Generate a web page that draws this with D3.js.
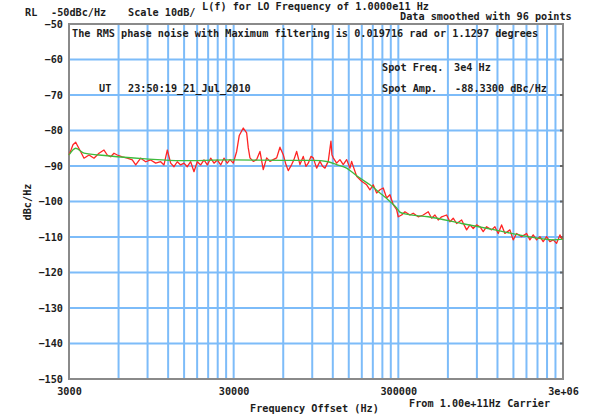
<!DOCTYPE html>
<html>
<head>
<meta charset="utf-8">
<script src="https://cdn.jsdelivr.net/npm/d3@7"></script>
<style>
  html, body { margin: 0; padding: 0; background: #fff; }
  svg text { font-family: "DejaVu Sans Mono", "Liberation Mono", monospace; font-size: 10.2px; font-weight: bold; fill: #1c1c1c; }
</style>
</head>
<body>
<svg id="chart" width="594" height="416"></svg>
<script>
// Level axis (dBc/Hz)
const yTicks = [-50, -60, -70, -80, -90, -100, -110, -120, -130, -140, -150];
// Offset-frequency axis labels
const xTickValues = [3000, 30000, 300000, 3000000];
const xTickLabels = ["3000", "30000", "300000", "3e+06"];
// Vertical grid: 2..10 times the start of each decade
const gridFreqs = [6000, 9000, 12000, 15000, 18000, 21000, 24000, 27000, 30000,
                   60000, 90000, 120000, 150000, 180000, 210000, 240000, 270000, 300000,
                   600000, 900000, 1200000, 1500000, 1800000, 2100000, 2400000, 2700000];

// Measured phase noise [offset Hz, dBc/Hz]
const measured = [
  [3000,-86.9],[3085,-85.5],[3172,-84.0],[3295,-83.3],[3355,-84.0],[3533,-86.0],[3700,-87.8],
  [3968,-86.9],[4255,-87.8],[4563,-86.4],[4893,-85.5],[5124,-86.9],[5374,-87.4],[5627,-86.4],
  [5893,-86.9],[6321,-87.4],[6779,-87.8],[7269,-88.3],[7623,-89.7],[8175,-87.8],[8767,-88.8],
  [9401,-88.3],[10082,-89.2],[10812,-88.8],[11322,-89.7],[11858,-85.5],[12434,-89.2],[13021,-90.2],
  [13636,-88.8],[14299,-89.7],[14974,-89.2],[15680,-90.2],[16445,-88.8],[17222,-91.6],[18034,-88.8],
  [18922,-89.7],[19815,-88.3],[20750,-89.7],[21758,-87.8],[22785,-89.2],[23859,-88.3],[25018,-89.7],
  [26198,-87.8],[27434,-89.2],[28489,-88.2],[29833,-89.2],[31286,-85.9],[32443,-81.4],[34312,-79.3],
  [35981,-80.7],[36796,-84.9],[37679,-87.7],[39459,-88.7],[41379,-88.2],[43332,-85.9],[45378,-91.0],
  [47587,-87.7],[49833,-88.7],[52187,-88.2],[54725,-87.7],[57308,-84.7],[60015,-86.8],[62323,-89.6],
  [64359,-91.3],[67489,-89.6],[69693,-88.2],[72377,-85.9],[75795,-89.6],[79372,-87.3],[82424,-90.1],
  [85114,-89.2],[88388,-87.3],[91277,-87.7],[95720,-90.6],[100245,-88.7],[104105,-90.1],[107507,-90.6],
  [112584,-88.7],[116915,-83.0],[118560,-86.8],[120738,-87.7],[126616,-89.2],[132593,-88.2],[138850,-89.6],
  [145610,-88.2],[152485,-90.6],[156151,-88.7],[159687,-90.1],[167462,-92.9],[179588,-94.3],[192590,-95.3],
  [201687,-96.7],[211211,-95.3],[221500,-97.6],[231958,-96.7],[242912,-96.2],[254735,-99.0],[266760,-98.1],
  [279352,-100.9],[292944,-102.3],[299580,-104.3],[314150,-103.8],[328980,-102.9],[352770,-103.8],
  [369420,-103.3],[396210,-104.3],[424980,-103.8],[455680,-102.9],[477900,-104.7],[500430,-103.8],
  [524070,-105.2],[549570,-104.3],[589440,-103.8],[617250,-105.7],[646320,-104.7],[677760,-106.2],
  [726870,-105.2],[779520,-108.0],[816300,-106.6],[854820,-107.6],[896370,-106.6],[938640,-107.1],
  [982920,-108.5],[1030830,-107.1],[1105470,-108.0],[1157640,-107.1],[1212300,-109.0],[1271310,-106.6],
  [1331310,-109.0],[1427730,-108.0],[1495080,-110.8],[1567890,-109.0],[1681350,-109.9],[1803120,-109.0],
  [1888290,-110.8],[1977450,-109.4],[2073660,-110.8],[2171520,-109.9],[2274030,-111.3],[2385000,-109.9],
  [2497680,-111.3],[2615610,-110.8],[2743350,-111.8],[2872830,-109.4],[2941860,-110.4],[3000000,-110.6]
];

// Smoothed curve (96-point smoothing) [offset Hz, dBc/Hz]
const smoothed = [
  [3000,-86.9],[3295,-85.0],[3700,-86.4],[4563,-86.9],[5893,-87.4],[8767,-88.0],[14299,-88.5],
  [28769,-88.3],[60015,-88.4],[91277,-88.4],[112584,-88.8],[126616,-89.6],[145610,-90.6],
  [159687,-92.0],[175400,-93.4],[201687,-95.3],[231958,-97.6],[266760,-100.0],[292944,-101.8],
  [306720,-103.0],[328980,-103.5],[455680,-104.3],[726870,-106.2],[1157640,-108.0],[1803120,-109.8],
  [2615610,-110.8],[3000000,-110.6]
];

const svg = d3.select("#chart");
const L = 69, R = 563, T = 24, B = 379;

const x = d3.scaleLog().domain([3000, 3000000]).range([L, R]);
const y = d3.scaleLinear().domain([-150, -50]).range([B, T]);

// grid
const grid = svg.append("g").attr("stroke", "#7dbcf9").attr("stroke-width", 2);
grid.selectAll("line.v").data(gridFreqs).join("line").attr("class", "v")
  .attr("x1", d => x(d)).attr("x2", d => x(d)).attr("y1", T).attr("y2", B);
grid.selectAll("line.h").data(yTicks.slice(1, -1)).join("line").attr("class", "h")
  .attr("x1", L).attr("x2", R).attr("y1", d => y(d)).attr("y2", d => y(d));

// frame
svg.append("rect").attr("x", L).attr("y", T).attr("width", R - L).attr("height", B - T)
  .attr("fill", "none").attr("stroke", "#8a8a8a").attr("stroke-width", 2);
// right-edge tick stubs
svg.append("g").selectAll("line").data(yTicks.slice(1, -1)).join("line")
  .attr("x1", R - 3).attr("x2", R).attr("y1", d => y(d)).attr("y2", d => y(d))
  .attr("stroke", "#666").attr("stroke-width", 2);

// axes
const yAxis = svg.append("g").attr("transform", `translate(${L},0)`)
  .call(d3.axisLeft(y).tickValues(yTicks).tickFormat(d3.format("d")).tickSize(0).tickPadding(6));
const xAxis = svg.append("g").attr("transform", `translate(0,${B})`)
  .call(d3.axisBottom(x).tickValues(xTickValues).tickFormat((d, i) => xTickLabels[i]).tickSize(0).tickPadding(9));
[yAxis, xAxis].forEach(g => {
  g.attr("font-family", null).attr("font-size", null);
  g.select(".domain").remove();
  g.selectAll("text").attr("fill", null);
});

// traces
const line = d3.line().x(d => x(d[0])).y(d => y(d[1]));
svg.append("path").datum(measured).attr("d", line)
  .attr("fill", "none").attr("stroke", "#ff2424").attr("stroke-width", 1.3).attr("stroke-linejoin", "round");
svg.append("path").datum(smoothed).attr("d", line.curve(d3.curveMonotoneX))
  .attr("fill", "none").attr("stroke", "#3dbb3d").attr("stroke-width", 1.3);

// annotations
const txt = (tx, ty, s) => svg.append("text").attr("x", tx).attr("y", ty).text(s);
txt(25, 16, "RL");
txt(51, 16, "-50dBc/Hz");
txt(128, 16, "Scale 10dB/");
txt(202, 10, "L(f) for LO Frequency of 1.0000e11 Hz");
txt(400, 20, "Data smoothed with 96 points");
txt(72, 37, "The RMS phase noise with Maximum filtering is 0.019716 rad or 1.1297 degrees");
txt(99, 92, "UT");
txt(128, 92, "23:50:19_21_Jul_2010");
txt(382, 71, "Spot Freq.");
txt(454, 71, "3e4 Hz");
txt(382, 92, "Spot Amp.");
txt(455, 92, "-88.3300 dBc/Hz");
txt(250, 412, "Frequency Offset (Hz)");
txt(409, 407, "From 1.00e+11Hz Carrier");
svg.append("text").attr("transform", "translate(31,202) rotate(-90)")
  .attr("text-anchor", "middle").text("dBc/Hz");
</script>
</body>
</html>
